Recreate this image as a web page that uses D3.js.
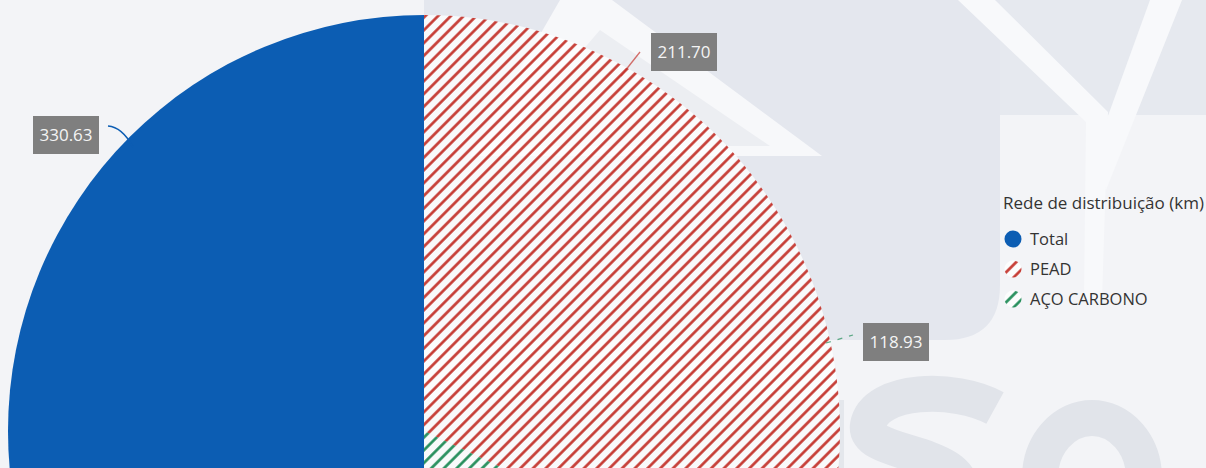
<!DOCTYPE html>
<head>
  <meta charset="utf-8">
  <script src="https://d3js.org/d3.v7.min.js"></script>
  <style>
    body { margin:0; overflow:hidden; background:#eef0f3; }
    text { font-family: "Open Sans", "Noto Sans", sans-serif; }
  </style>
</head>
<body>
  <script>
    // data
    var categories = ["Total", "PEAD", "AÇO CARBONO"];
    var values = [330.63, 211.70, 118.93];
    var legendTitle = "Rede de distribuição (km)";

    // layout / style (not data)
    var W = 1206, H = 468;
    var cx = 424, cy = 431, R = 416;
    var colors = ["#0c5db3", "#c4352d", "#1f8b57"];
    var labelPos = [[66, 135], [684, 52], [896, 342]];
    var leaderPath = [
      "M108,126 Q122,127 133,147",
      "M621,76 L640,52",
      "M826,343 L853,335"
    ];

    var svg = d3.select("body")
      .append("svg")
      .attr("width", W)
      .attr("height", H)

    // ---- background watermark (approximate) ----
    var bg = svg.append("g")
    bg.append("rect").attr("width", W).attr("height", H).attr("fill", "#f3f4f7")
    bg.append("path")
      .attr("d", "M424,0 H1000 V285 Q1000,340 945,340 H424 Z")
      .attr("fill", "#e4e7ee")
    bg.append("path")
      .attr("d", "M1000,0 H1206 V115 H1000 Z")
      .attr("fill", "#e6e9ef")
    bg.append("path")
      .attr("d", "M560,0 L612,0 L822,156 L470,156 Z")
      .attr("fill", "#f7f8fa")
    bg.append("path")
      .attr("d", "M600,30 L770,146 L500,146 Z")
      .attr("fill", "#eceef2")
    bg.append("path")
      .attr("d", "M958,0 L995,0 L1108,112 L1102,300 L1084,300 L1086,122 Z")
      .attr("fill", "#f8f9fb")
    bg.append("path")
      .attr("d", "M1150,0 L1182,0 L1106,190 L1092,160 Z")
      .attr("fill", "#f8f9fb")
    bg.append("path")
      .attr("d", "M995,408 C955,386 875,388 868,425 C862,458 975,448 960,500")
      .attr("fill", "none").attr("stroke", "#e1e4ea").attr("stroke-width", 36)
    bg.append("ellipse")
      .attr("cx", 1092).attr("cy", 478).attr("rx", 52).attr("ry", 60)
      .attr("fill", "none").attr("stroke", "#e1e4ea").attr("stroke-width", 36)
    bg.append("rect")
      .attr("x", 424).attr("y", 400).attr("width", 420).attr("height", 68)
      .attr("fill", "#e4e7ec")

    // ---- hatch patterns ----
    var defs = svg.append("defs")
    function hatch(id, color) {
      var p = defs.append("pattern")
        .attr("id", id)
        .attr("patternUnits", "userSpaceOnUse")
        .attr("width", 9)
        .attr("height", 9)
        .attr("patternTransform", "rotate(45)")
      p.append("rect").attr("width", 9).attr("height", 9)
        .attr("fill", "#ffffff").attr("fill-opacity", 0.78)
      p.append("line")
        .attr("x1", 4.5).attr("y1", 0).attr("x2", 4.5).attr("y2", 9)
        .attr("stroke", color).attr("stroke-width", 2.6)
    }
    hatch("hatch-1", colors[1]);
    hatch("hatch-2", colors[2]);
    var fills = [colors[0], "url(#hatch-1)", "url(#hatch-2)"];

    // ---- pie ----
    var pie = d3.pie().sort(null).value(function(d) { return d; })
      .startAngle(Math.PI).endAngle(3 * Math.PI);
    var arc = d3.arc().innerRadius(0).outerRadius(R);

    svg.append("g")
      .attr("transform", "translate(" + cx + "," + cy + ")")
      .selectAll("path")
      .data(pie(values))
      .enter()
      .append("path")
      .attr("d", arc)
      .attr("fill", function(d, i) { return fills[i]; })

    // ---- data labels ----
    var fmt = d3.format(".2f");
    var lab = svg.append("g")
    lab.selectAll("path").data(values).enter()
      .append("path")
      .attr("d", function(d, i) { return leaderPath[i]; })
      .attr("fill", "none")
      .attr("stroke", function(d, i) { return colors[i]; })
      .attr("stroke-width", function(d, i) { return i == 0 ? 1.6 : 1.3; })
      .attr("stroke-dasharray", function(d, i) { return i == 2 ? "5,7" : null; })
      .attr("opacity", function(d, i) { return i == 0 ? 1 : 0.7; })

    var boxes = lab.selectAll("g.lbl").data(values).enter()
      .append("g")
      .attr("class", "lbl")
      .attr("transform", function(d, i) { return "translate(" + labelPos[i][0] + "," + labelPos[i][1] + ")"; })
    boxes.append("rect")
      .attr("x", -33).attr("y", -19).attr("width", 66).attr("height", 38)
      .attr("fill", "#7f7f7f")
    boxes.append("text")
      .attr("text-anchor", "middle")
      .attr("dy", "0.35em")
      .attr("fill", "#f4f4f4")
      .attr("font-size", 17)
      .text(function(d) { return fmt(d); })

    // ---- legend ----
    var leg = svg.append("g").attr("transform", "translate(1003,0)")
    leg.append("text")
      .attr("x", 0).attr("y", 209)
      .attr("fill", "#333333")
      .attr("font-size", 17)
      .text(legendTitle)
    var items = leg.selectAll("g.item").data(categories).enter()
      .append("g")
      .attr("class", "item")
      .attr("transform", function(d, i) { return "translate(0," + (239 + i * 30) + ")"; })
    items.append("circle")
      .attr("cx", 10).attr("cy", 0).attr("r", 8.5)
      .attr("fill", function(d, i) { return fills[i]; })
    items.append("text")
      .attr("x", 27).attr("dy", "0.35em")
      .attr("fill", "#333333")
      .attr("font-size", 16.5)
      .text(function(d) { return d; })
  </script>
</body>
